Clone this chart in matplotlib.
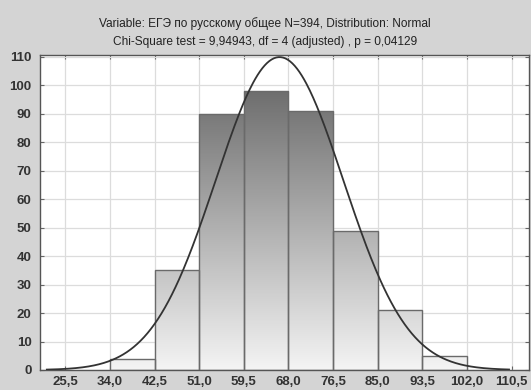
import numpy as np
import matplotlib
matplotlib.use('Agg')
import matplotlib.pyplot as plt
from matplotlib.colors import LinearSegmentedColormap

# histogram of exam scores
bin_edges = [34.0, 42.5, 51.0, 59.5, 68.0, 76.5, 85.0, 93.5, 102.0]
counts = [4, 35, 90, 98, 91, 49, 21, 5]
tick_values = [25.5, 34.0, 42.5, 51.0, 59.5, 68.0, 76.5, 85.0, 93.5, 102.0, 110.5]
tick_labels = ['25,5', '34,0', '42,5', '51,0', '59,5', '68,0', '76,5', '85,0', '93,5', '102,0', '110,5']
y_ticks = [0, 10, 20, 30, 40, 50, 60, 70, 80, 90, 100, 110]

# fitted normal
n_total = 394
fit_mean = 66.3
fit_sd = 12.15
bin_width = 8.5

title1 = 'Variable: ЕГЭ по русскому общее N=394, Distribution: Normal'
title2 = 'Chi-Square test = 9,94943, df = 4 (adjusted) , p = 0,04129'

plt.rcParams['font.family'] = ['Liberation Sans', 'DejaVu Sans']

fig = plt.figure(figsize=(5.31, 3.9), dpi=100)
fig.patch.set_facecolor('#d4d4d4')
ax = fig.add_axes([40 / 531, 20 / 390, 489 / 531, 315 / 390])
ax.set_facecolor('white')

ymax = 110.7
ax.set_xlim(20.7, 113.8)
ax.set_ylim(0, ymax)

ax.set_xticks(tick_values)
ax.set_xticklabels(tick_labels)
ax.set_yticks(y_ticks)
ax.grid(True, color='#dcdcdc', linewidth=0.9)
ax.set_axisbelow(True)
ax.tick_params(direction='in', top=True, right=True, length=3, color='#666666',
               labelsize=9.5, labelcolor='#333333')
ax.tick_params(axis='x', pad=4)
ax.tick_params(axis='y', pad=6)
for lab in ax.get_xticklabels() + ax.get_yticklabels():
    lab.set_fontweight('bold')
for s in ax.spines.values():
    s.set_color('#555555')
    s.set_linewidth(1.0)

# bars with vertical gradient
widths = np.diff(bin_edges)
bars = ax.bar(bin_edges[:-1], counts, width=widths, align='edge',
              facecolor='none', edgecolor='#6a6a6a', linewidth=1.0, zorder=3)
grad = np.linspace(0, 1, 256).reshape(-1, 1)
cmap = LinearSegmentedColormap.from_list('g', ['#f4f4f4', '#5e5e5e'])
for b in bars:
    im = ax.imshow(grad, cmap=cmap, aspect='auto', origin='lower',
                   extent=[20.7, 113.8, 0, 110], zorder=2)
    im.set_clip_path(b)

x = np.linspace(22, 110, 400)
y = n_total * bin_width / (fit_sd * np.sqrt(2 * np.pi)) * np.exp(-0.5 * ((x - fit_mean) / fit_sd) ** 2)
ax.plot(x, y, color='#333333', linewidth=1.3, zorder=4)

fig.text(265 / 531, 1 - 24 / 390, title1, ha='center', va='center', fontsize=8.6, color='#222222')
fig.text(265 / 531, 1 - 42 / 390, title2, ha='center', va='center', fontsize=8.6, color='#222222')

fig.savefig('out.png', dpi=100, facecolor=fig.get_facecolor())
